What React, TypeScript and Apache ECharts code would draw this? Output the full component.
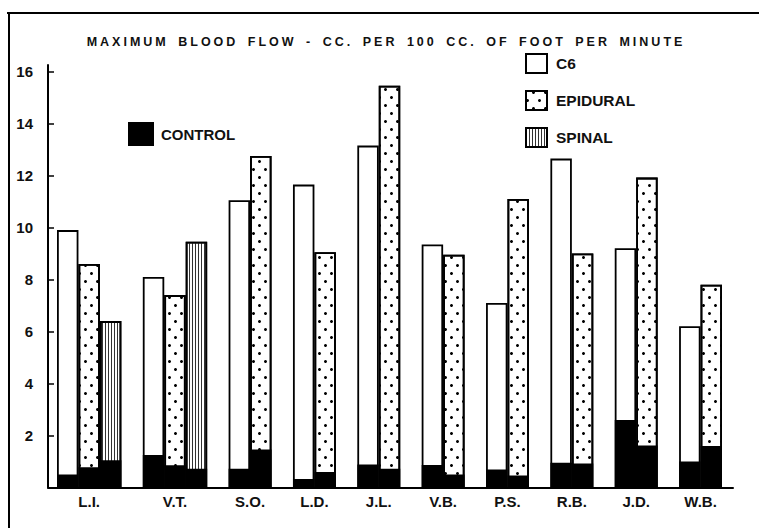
import { useEffect, useRef } from 'react';
import * as echarts from 'echarts';

const TITLE = 'MAXIMUM BLOOD FLOW - CC. PER 100 CC. OF FOOT PER MINUTE';
const SUBJECTS = ['L.I.', 'V.T.', 'S.O.', 'L.D.', 'J.L.', 'V.B.', 'P.S.', 'R.B.', 'J.D.', 'W.B.'];
const C6_MAX = [9.9, 8.1, 11.05, 11.65, 13.15, 9.35, 7.1, 12.65, 9.2, 6.2];
const C6_CONTROL = [0.5, 1.25, 0.72, 0.33, 0.88, 0.87, 0.69, 0.95, 2.6, 1.0];
const EPIDURAL_MAX = [8.6, 7.4, 12.75, 9.05, 15.45, 8.95, 11.1, 9.0, 11.92, 7.8];
const EPIDURAL_CONTROL = [0.78, 0.86, 1.46, 0.6, 0.72, 0.5, 0.46, 0.92, 1.62, 1.6];
const SPINAL_MAX: (number | null)[] = [6.4, 9.45, null, null, null, null, null, null, null, null];
const SPINAL_CONTROL: (number | null)[] = [1.05, 0.72, null, null, null, null, null, null, null, null];
const Y_TICKS = [2, 4, 6, 8, 10, 12, 14, 16];

const FONT = "'Liberation Sans', Arial, sans-serif";
const INK = '#111';

const CONDITIONS = [
  { name: 'C6', max: C6_MAX, control: C6_CONTROL },
  { name: 'EPIDURAL', max: EPIDURAL_MAX, control: EPIDURAL_CONTROL },
  { name: 'SPINAL', max: SPINAL_MAX, control: SPINAL_CONTROL },
];

function buildSlots() {
  const values: Record<string, (number | null)[]> = { C6: [], EPIDURAL: [], SPINAL: [] };
  const control: (number | null)[] = [];
  const labels: { text: string; half: number }[] = [];
  let slot = 0;
  SUBJECTS.forEach((subject, g) => {
    if (g > 0) {
      CONDITIONS.forEach((c) => values[c.name].push(null));
      control.push(null);
      slot++;
    }
    const start = slot;
    CONDITIONS.forEach((c) => {
      const v = c.max[g];
      if (v == null) return;
      CONDITIONS.forEach((c2) => values[c2.name].push(c2 === c ? v : null));
      control.push(c.control[g] as number);
      slot++;
    });
    labels.push({ text: subject, half: start + slot });
  });
  const slotCats = Array.from({ length: slot }, (_, i) => String(i));
  const halfCats = Array.from({ length: 2 * slot + 1 }, () => '');
  labels.forEach((l) => (halfCats[l.half] = l.text));
  return { values, control, slotCats, halfCats };
}

export default function App() {
  const ref = useRef<HTMLDivElement>(null);
  useEffect(() => {
    const el = ref.current!;
    const chart = echarts.init(el, null, { renderer: 'svg' });
    const { values, control, slotCats, halfCats } = buildSlots();
    const top = 65;
    const bottom = 40.5;
    const yMax = 16.25;
    const labelStyle = { fontFamily: FONT, fontWeight: 'bold' as const, fontSize: 15, color: INK };
    const barBase = {
      type: 'bar' as const,
      xAxisIndex: 0,
      yAxisIndex: 0,
      barGap: '-100%',
      barCategoryGap: '0%',
    };
    chart.setOption({
      animation: false,
      backgroundColor: '#fff',
      title: {
        text: TITLE,
        left: 386,
        top: 35,
        padding: 0,
        textAlign: 'center',
        textStyle: { fontFamily: FONT, fontWeight: 'bold', fontSize: 12.5, color: INK },
      },
      legend: [
        {
          data: ['C6', 'EPIDURAL', 'SPINAL'],
          orient: 'vertical',
          left: 525,
          top: 53,
          padding: 0,
          itemWidth: 21,
          itemHeight: 19,
          itemGap: 16,
          icon: 'rect',
          selectedMode: false,
          textStyle: { ...labelStyle, fontSize: 15.5, padding: [0, 0, 0, 4] },
        },
        {
          data: ['CONTROL'],
          left: 128,
          top: 122,
          padding: 0,
          itemWidth: 24,
          itemHeight: 22,
          icon: 'rect',
          selectedMode: false,
          textStyle: { ...labelStyle, padding: [0, 0, 0, 3] },
        },
      ],
      grid: [
        { left: 57, right: 37, top, bottom },
        { left: 48, right: 26, top, bottom },
      ],
      xAxis: [
        { type: 'category', gridIndex: 0, data: slotCats, position: 'top', show: false },
        {
          type: 'category',
          gridIndex: 0,
          data: halfCats,
          position: 'bottom',
          boundaryGap: false,
          axisLine: { show: false },
          axisTick: { show: false },
          axisLabel: { ...labelStyle, interval: 0, margin: 6 },
        },
        {
          type: 'value',
          gridIndex: 1,
          min: 0,
          max: 1,
          axisLine: { show: true, lineStyle: { color: '#000', width: 2 } },
          axisTick: { show: false },
          axisLabel: { show: false },
          splitLine: { show: false },
        },
      ],
      yAxis: [
        { type: 'value', gridIndex: 0, min: 0, max: yMax, show: false },
        {
          type: 'value',
          gridIndex: 1,
          min: 0,
          max: yMax,
          offset: 6,
          axisLine: { show: true, lineStyle: { color: '#000', width: 2 } },
          axisTick: {
            show: true,
            inside: true,
            length: 6,
            customValues: Y_TICKS,
            lineStyle: { color: '#000', width: 1.5 },
          },
          axisLabel: { ...labelStyle, customValues: Y_TICKS, margin: 9 },
          splitLine: { show: false },
        },
      ],
      series: [
        {
          ...barBase,
          name: 'C6',
          data: values.C6,
          itemStyle: { color: '#fff', borderColor: '#000', borderWidth: 1.8 },
        },
        {
          ...barBase,
          name: 'EPIDURAL',
          data: values.EPIDURAL,
          itemStyle: {
            color: '#fff',
            borderColor: '#000',
            borderWidth: 1.8,
            decal: {
              symbol: 'circle',
              symbolSize: 1,
              color: '#000',
              dashArrayX: [
                [3, 9],
                [0, 6, 3, 3],
              ],
              dashArrayY: [3, 5],
            },
          },
        },
        {
          ...barBase,
          name: 'SPINAL',
          data: values.SPINAL,
          itemStyle: {
            color: '#fff',
            borderColor: '#000',
            borderWidth: 1.8,
            decal: {
              symbol: 'rect',
              symbolSize: 1,
              color: '#333',
              dashArrayX: [1, 2],
              dashArrayY: [10, 0],
            },
          },
        },
        {
          ...barBase,
          name: 'CONTROL',
          data: control,
          itemStyle: { color: '#000', borderColor: '#000', borderWidth: 1.8 },
        },
      ],
      graphic: [
        { type: 'line', shape: { x1: 7, y1: 13, x2: 759, y2: 13 }, style: { stroke: '#000', lineWidth: 2 } },
        { type: 'line', shape: { x1: 9, y1: 13, x2: 9, y2: 528 }, style: { stroke: '#000', lineWidth: 2 } },
      ],
    });
    const spaceTitle = () => {
      el.querySelectorAll('text').forEach((t) => {
        if (t.textContent === TITLE) {
          (t as SVGTextElement).style.letterSpacing = '3px';
          (t as SVGTextElement).style.wordSpacing = '3px';
        }
      });
    };
    spaceTitle();
    chart.on('finished', spaceTitle);
    return () => chart.dispose();
  }, []);
  return <div ref={ref} style={{ position: 'absolute', left: 0, top: 0, width: 759, height: 528 }} />;
}
